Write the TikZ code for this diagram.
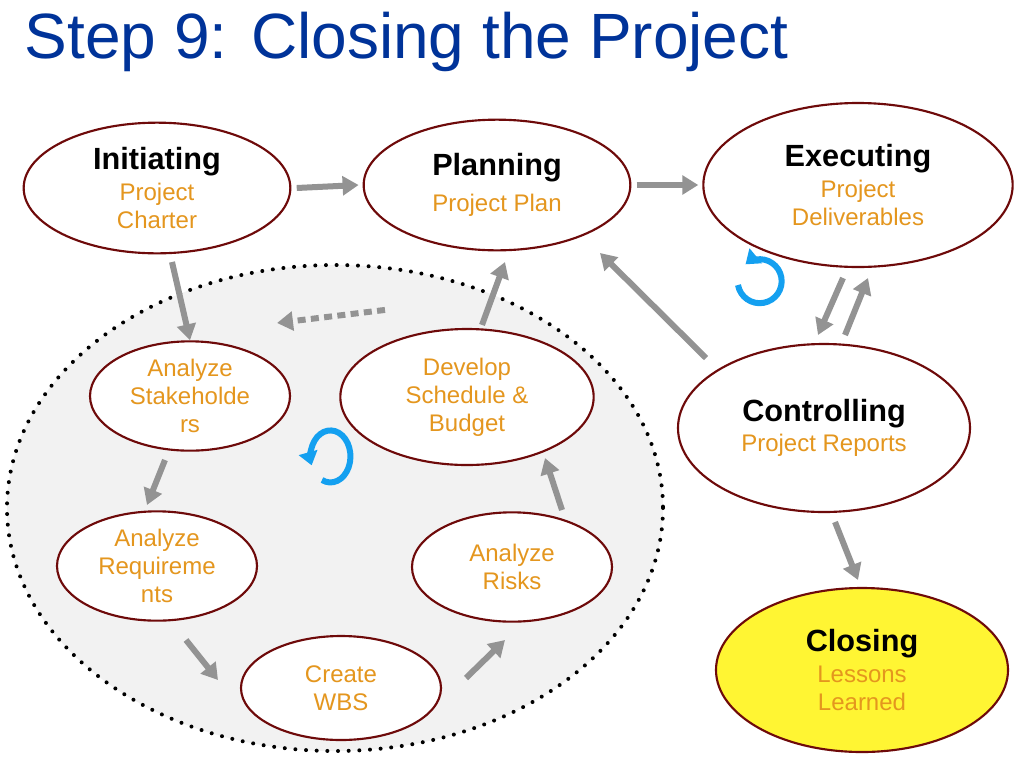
\documentclass[tikz,border=0pt]{standalone}
\usepackage{fontspec}
\setmainfont{Liberation Sans}
\usetikzlibrary{shapes.geometric}
\usetikzlibrary{arrows.meta}
\definecolor{titleblue}{RGB}{0,51,153}
\definecolor{taskorange}{RGB}{228,150,30}
\definecolor{rimred}{RGB}{110,10,10}
\definecolor{cycleblue}{RGB}{20,160,240}
\tikzset{
  phase/.style={ellipse, draw=rimred, line width=1.6pt, fill=white, align=center, inner sep=0pt,
    text=taskorange, font=\fontsize{18}{21}\selectfont},
  flow/.style={draw=gray!85, line width=4.5pt, -{Triangle[length=12pt,width=14pt]}},
}
\newcommand{\headtxt}[1]{\textcolor{black}{\fontsize{23}{25}\selectfont\bfseries #1}}
\begin{document}
\begin{tikzpicture}[x=0.75pt,y=-0.75pt]
    \useasboundingbox (0,0) rectangle (1024,768);
    \fill[white] (0,0) rectangle (1024,768);
    
    \node[anchor=base west, text=titleblue, font=\fontsize{48}{50}\selectfont] (title) at (20,58) {Step 9: Closing the Project};
    
    % the planning loop
    \fill[gray!10] (335,508) ellipse [x radius=328, y radius=243];
    \draw[line width=3pt, dash pattern=on 0pt off 8pt, line cap=round] (335,508) ellipse [x radius=328, y radius=243];
    
    \node[phase, minimum width=200pt, minimum height=98pt] (init) at (157,188) {\headtxt{Initiating}\\[2pt]Project\\Charter};
    \node[phase, minimum width=200pt, minimum height=98pt] (plan) at (497,185) {\headtxt{Planning}\\[6pt]Project Plan};
    \node[phase, minimum width=232pt, minimum height=123pt] (exec) at (858,185) {\headtxt{Executing}\\[2pt]Project\\Deliverables};
    \node[phase, minimum width=219pt, minimum height=126pt] (ctrl) at (824,428) {\headtxt{Controlling}\\[2pt]Project Reports};
    \node[phase, fill=yellow!80!white, minimum width=219pt, minimum height=123pt] (close) at (862,670) {\headtxt{Closing}\\[2pt]Lessons\\Learned};
    
    \node[phase, minimum width=150pt, minimum height=82pt] (stake) at (190,396) {Analyze\\Stakeholde\\rs};
    \node[phase, minimum width=190pt, minimum height=102pt] (dev) at (467,397) {Develop\\Schedule \&\\Budget};
    \node[phase, minimum width=150pt, minimum height=82pt] (req) at (157,566) {Analyze\\Requireme\\nts};
    \node[phase, minimum width=150pt, minimum height=82pt] (risk) at (512,567) {Analyze\\Risks};
    \node[phase, minimum width=150pt, minimum height=78pt] (wbs) at (341,688) {Create\\WBS};
    
    \draw[flow] ([xshift=4pt]init.east) -- ([xshift=-3pt]plan.west);
    \draw[flow] ([xshift=4pt]plan.east) -- ([xshift=-3pt]exec.west);
    \draw[flow] (172,262) -- (stake.north);
    \draw[flow] (dev.north) ++(15,-3) -- (505,262);
    \draw[flow, dash pattern=on 6pt off 4pt] (dev.north) ++(-82,-18) -- (277,323);
    \draw[flow] (706,358) -- (600,253);
    \draw[flow] (843,278) -- (818,335);
    \draw[flow] (845,335) -- (868,278);
    \draw[flow] (835,522) -- (858,580);
    \draw[flow] (165,460) -- (147,505);
    \draw[flow] (186,640) -- (218,680);
    \draw[flow] (466,678) -- (505,640);
    \draw[flow] (562,510) -- (545,458);
    
    % cycle marks
    \draw[cycleblue, line width=4.5pt, -{Triangle[length=10pt,width=14pt]}] (322,480) arc[start angle=115, end angle=-200, x radius=20, y radius=26] ;
    \draw[cycleblue, line width=4.5pt, -{Triangle[length=10pt,width=14pt]}] (738,285) arc[start angle=170, end angle=-130, x radius=22, y radius=22] ;
\end{tikzpicture}
\end{document}
